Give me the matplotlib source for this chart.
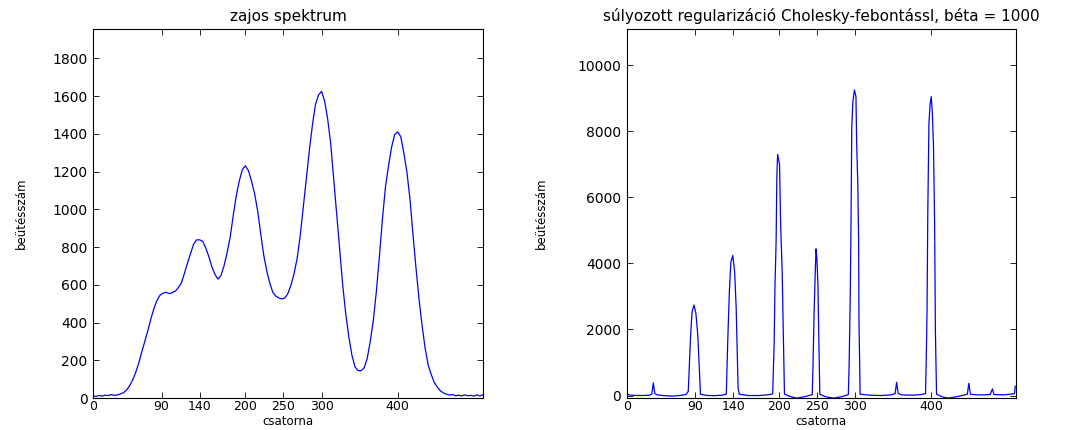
import numpy as np
import matplotlib.pyplot as plt

plt.switch_backend('agg')
plt.rcParams['font.family'] = ['DejaVu Sans']

# noisy spectrum, every 4th channel
noisy_ch = np.arange(0, 513, 4)
noisy_counts = [
    12, 8, 14, 10, 15, 13, 18, 14, 16, 22, 28, 42, 65, 95, 135, 185,
    245, 300, 358, 420, 475, 518, 545, 556, 560, 553, 558, 566, 585, 610, 660, 715,
    765, 815, 838, 838, 830, 795, 750, 695, 655, 630, 650, 700, 770, 850, 965, 1070,
    1150, 1210, 1230, 1205, 1150, 1085, 995, 875, 760, 675, 610, 560, 540, 530, 525, 530,
    555, 600, 660, 740, 860, 1010, 1160, 1310, 1445, 1555, 1605, 1625, 1575, 1480, 1350, 1160,
    965, 780, 590, 440, 320, 225, 165, 145, 145, 160, 210, 300, 410, 565, 750, 950,
    1120, 1230, 1330, 1395, 1410, 1385, 1300, 1200, 1060, 870, 690, 525, 385, 265, 175, 125,
    82, 58, 38, 27, 20, 16, 18, 12, 15, 11, 17, 12, 14, 10, 16, 11, 18,
]

# weighted regularised deconvolution result
dec_ch = [
    0, 1, 4, 10, 20, 30, 33, 35, 37, 40, 50, 60, 70, 78,
    81, 84, 86, 88.5, 91, 93.5, 95.5, 97, 105, 115, 125,
    131, 133, 135, 137, 139.5, 142, 144, 146.5, 148, 160, 175, 188,
    192, 194, 195, 196.5, 197.5, 198.5, 201, 202.5, 204.5, 206, 207.5, 215, 224, 235,
    244, 245, 246.5, 248, 249, 250, 251.5, 252.5, 254, 262, 272, 282,
    291.5, 292.5, 294, 295, 296, 297.5, 299.5, 301.5, 302.5, 304, 305, 305.5, 307,
    320, 335, 348, 353, 355, 357, 362, 375, 388,
    393, 394, 395, 396, 397.5, 399, 400.5, 402, 403.5, 405, 406, 407.5,
    415, 423, 433, 443, 448, 450, 452, 460, 470, 478, 481, 483, 495, 505, 510, 511,
]
dec_counts = [
    440, 40, 15, 5, 0, 10, 40, 380, 60, 20, -5, -15, 0, 30,
    130, 1790, 2540, 2740, 2490, 1830, 830, 40, 5, -5, 10,
    40, 1730, 3140, 4040, 4240, 3740, 2640, 230, 40, 0, 0, 30,
    50, 1640, 3290, 4650, 6650, 7300, 7000, 5150, 3740, 1840, 40, -30, -78, -30,
    30, 880, 2540, 3740, 4440, 4190, 3390, 1940, 40, -40, -78, -40,
    30, 880, 2990, 5150, 8100, 8900, 9250, 9050, 7600, 6350, 4740, 2240, 40,
    10, 0, 20, 60, 400, 60, 20, 10, 30,
    60, 1130, 2540, 5550, 8250, 8800, 9050, 8550, 7550, 5150, 1940, 40,
    -40, -78, -40, 10, 40, 370, 40, 20, 20, 30, 200, 30, 20, 40, 60, 280,
]

xticks = [0, 90, 140, 200, 250, 300, 400]

fig = plt.figure(figsize=(10.92, 4.30), dpi=100)
ax1 = fig.add_axes([0.0852, 0.0744, 0.3571, 0.8581])
ax2 = fig.add_axes([0.5739, 0.0744, 0.3565, 0.8581])

ax1.plot(noisy_ch, noisy_counts, color='#0000ff', lw=0.9)
ax1.set_xlim(0, 512)
ax1.set_ylim(0, 1955)
ax1.set_yticks(np.arange(0, 1801, 200))
ax1.set_title('zajos spektrum', fontsize=11, pad=6)
ax1.yaxis.set_label_coords(-0.168, 0.5)

ax2.plot(dec_ch, dec_counts, color='#0000ff', lw=0.9)
ax2.set_xlim(0, 512)
ax2.set_ylim(-75, 11095)
ax2.set_yticks(np.arange(0, 10001, 2000))
ax2.set_title('súlyozott regularizáció Cholesky-febontássl, béta = 1000',
              fontsize=11, pad=6)
ax2.yaxis.set_label_coords(-0.202, 0.5)

for ax in (ax1, ax2):
    ax.set_xticks(xticks)
    ax.set_xlabel('csatorna', fontsize=8.5, va='top')
    ax.xaxis.set_label_coords(0.5, -0.045)
    ax.set_ylabel('beütésszám', fontsize=8.5)
    ax.tick_params(direction='in', top=True, right=True, length=4,
                   width=0.6, labelsize=10, pad=4)
    ax.tick_params(axis='x', pad=1.5, labelsize=9)
    for sp in ax.spines.values():
        sp.set_linewidth(0.8)

fig.savefig('out.png', dpi=100)
